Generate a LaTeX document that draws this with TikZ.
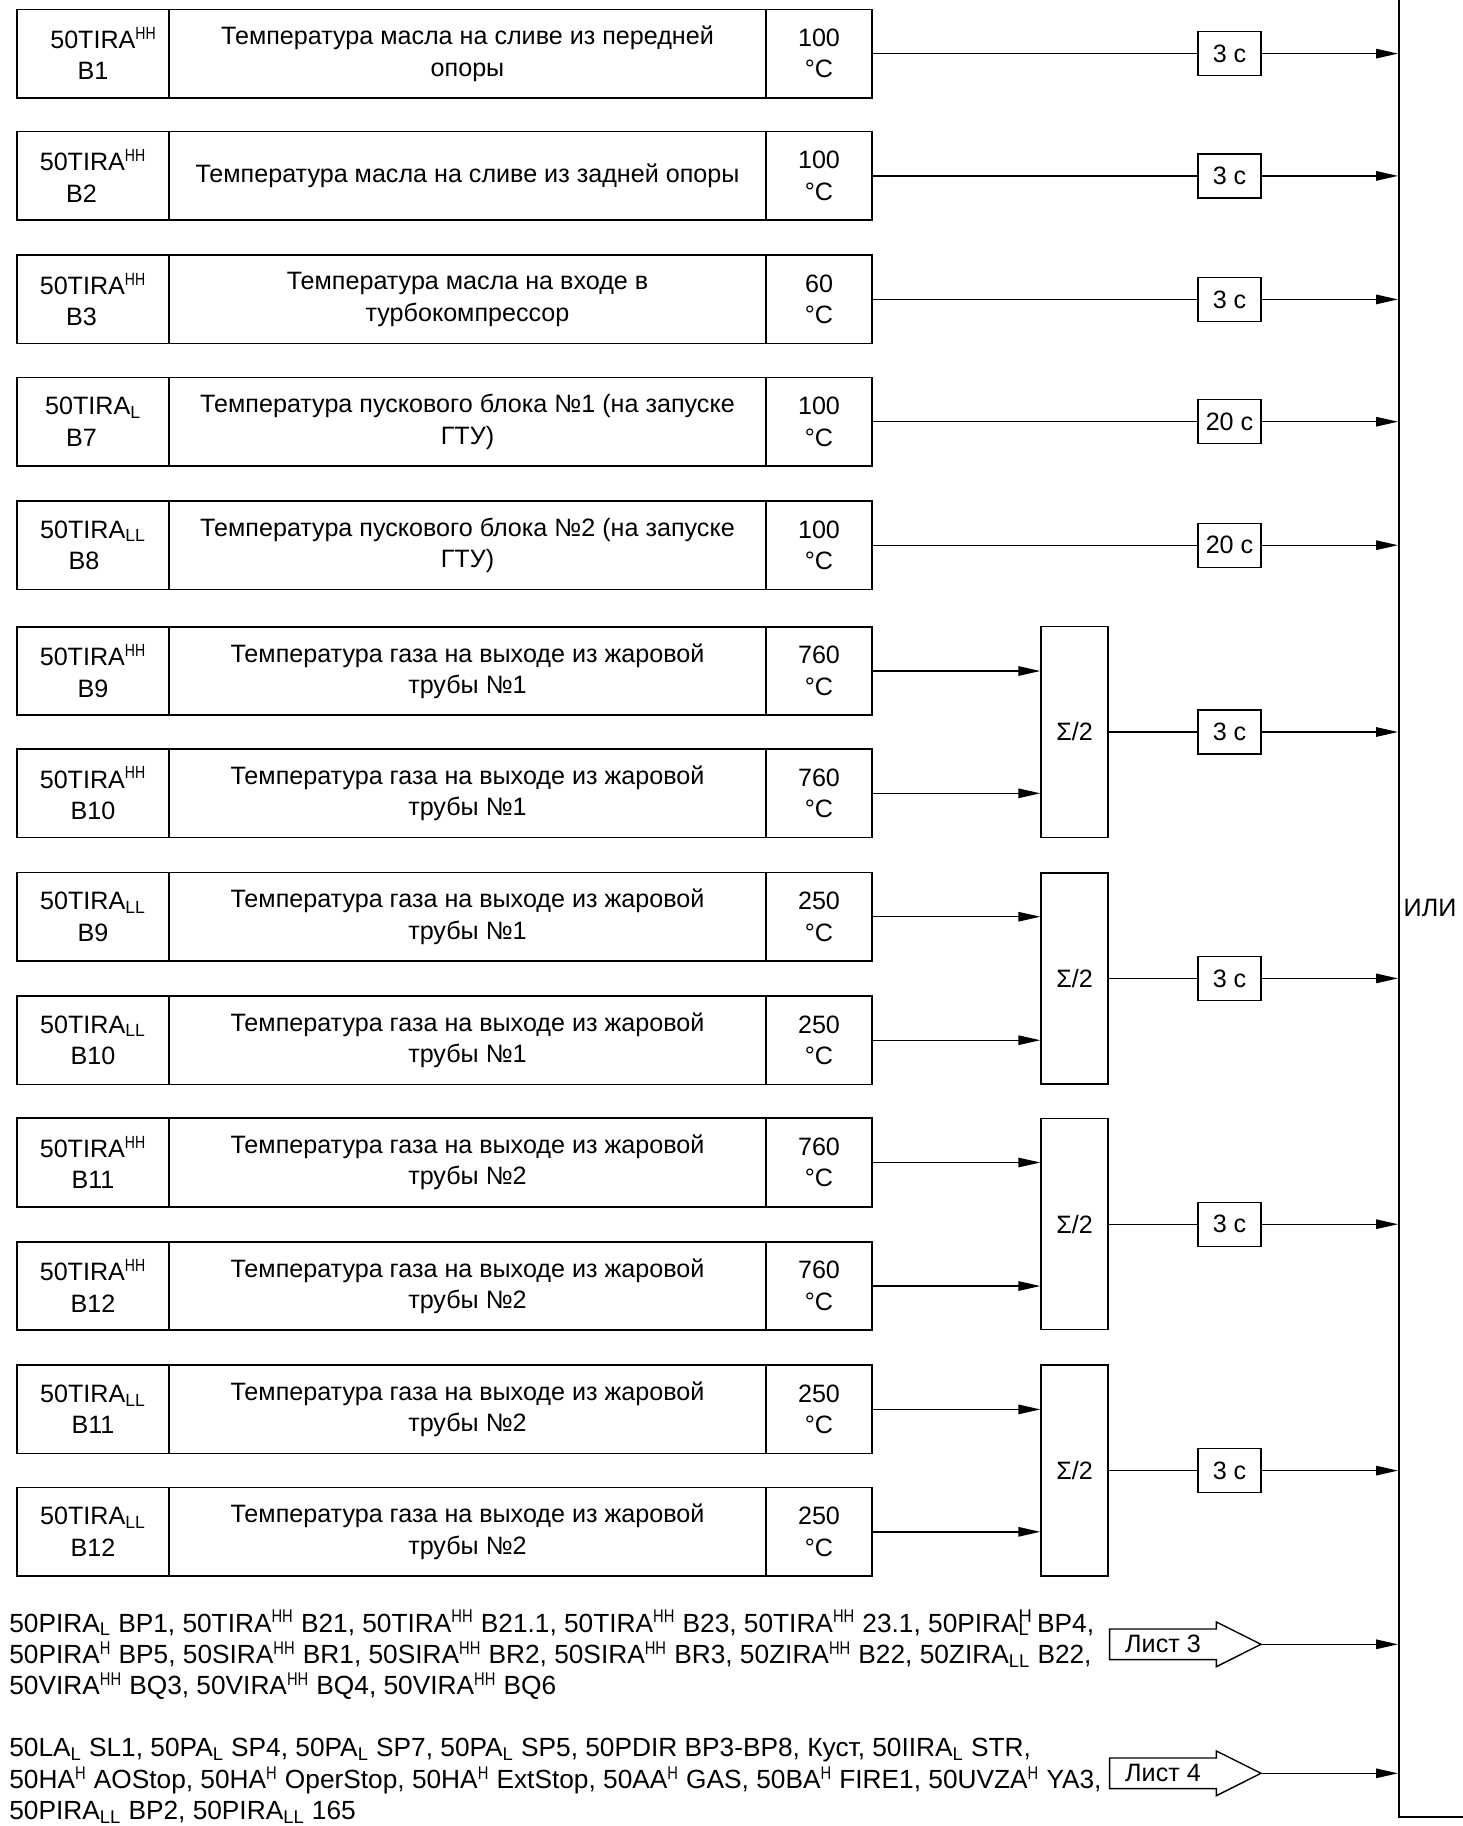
\documentclass[tikz,border=0pt]{standalone}
\usepackage{fontspec}
\setmainfont{Liberation Sans}
\usetikzlibrary{arrows.meta}
\newcommand{\up}[1]{\textsuperscript{\scalebox{0.8}[1]{#1}}}
\newcommand{\dn}[1]{\textsubscript{#1}}
\newcommand{\updn}[2]{\rlap{\textsuperscript{#1}}\textsubscript{#2}}

\begin{document}
\begin{tikzpicture}[
    x=0.2mm, y=-0.2mm,
    every node/.style={font=\fontsize{14.3}{17.9}\selectfont, inner sep=0pt},
    cell/.style={draw, line width=0.9pt, minimum height=17.7mm, align=center},
    tagcell/.style={cell, minimum width=30.4mm},
    desccell/.style={cell, minimum width=119.4mm},
    valcell/.style={cell, minimum width=21.2mm},
    delay/.style={draw, line width=0.8pt, minimum width=12.6mm, minimum height=8.8mm},
    avg/.style={draw, line width=0.8pt, minimum width=13.4mm, minimum height=42.2mm},
    srclist/.style={anchor=west, align=left, font=\fontsize{14.95}{17.9}\selectfont},
    wire/.style={line width=0.8pt},
    arr/.style={line width=0.8pt, -{Triangle[length=4.4mm, width=1.9mm]}}
]
  \useasboundingbox (0,0) rectangle (1463,1826);

  % OR block (runs off the page)
  \node[draw, line width=0.9pt, minimum width=20mm, minimum height=370mm,
        anchor=south west] (orbox) at (1398,1818) {};
  \node (ili) at (1430,908) {ИЛИ};

  % Oil temperature rows
  \node[tagcell]  (t1) at (93,53.6)    {\hspace*{4.2mm}50TIRA\up{HH}\\B1};
  \node[desccell] (d1) at (467.5,53.6) {Температура масла на сливе из передней\\опоры};
  \node[valcell]  (v1) at (819,53.6)   {100\\°C};
  \node[tagcell]  (t2) at (93,175.9)    {50TIRA\up{HH}\\B2\hspace*{4.6mm}};
  \node[desccell] (d2) at (467.5,175.9) {Температура масла на сливе из задней опоры};
  \node[valcell]  (v2) at (819,175.9)   {100\\°C};
  \node[tagcell]  (t3) at (93,299.4)    {50TIRA\up{HH}\\B3\hspace*{4.6mm}};
  \node[desccell] (d3) at (467.5,299.4) {Температура масла на входе в\\турбокомпрессор};
  \node[valcell]  (v3) at (819,299.4)   {60\\°C};

  % Start block rows
  \node[tagcell]  (t4) at (93,421.7)    {50TIRA\dn{L}\\B7\hspace*{4.6mm}};
  \node[desccell] (d4) at (467.5,421.7) {Температура пускового блока №1 (на запуске\\ГТУ)};
  \node[valcell]  (v4) at (819,421.7)   {100\\°C};
  \node[tagcell]  (t5) at (93,545.2)    {50TIRA\dn{LL}\\B8\hspace*{3.6mm}};
  \node[desccell] (d5) at (467.5,545.2) {Температура пускового блока №2 (на запуске\\ГТУ)};
  \node[valcell]  (v5) at (819,545.2)   {100\\°C};

  % Delays for single rows
  \node[delay] (z1) at (1229.5,53.6)  {3 с};
  \node[delay] (z2) at (1229.5,175.9) {3 с};
  \node[delay] (z3) at (1229.5,299.4) {3 с};
  \node[delay] (z4) at (1229.5,421.7) {20 с};
  \node[delay] (z5) at (1229.5,545.2) {20 с};

  \draw[wire] (v1)--(z1);
  \draw[wire] (v2)--(z2);
  \draw[wire] (v3)--(z3);
  \draw[wire] (v4)--(z4);
  \draw[wire] (v5)--(z5);
  \draw[arr] (z1)--(z1 -| orbox.west);
  \draw[arr] (z2)--(z2 -| orbox.west);
  \draw[arr] (z3)--(z3 -| orbox.west);
  \draw[arr] (z4)--(z4 -| orbox.west);
  \draw[arr] (z5)--(z5 -| orbox.west);

  % Flame tube gas rows
  \node[tagcell]  (t6) at (93,671)    {50TIRA\up{HH}\\B9};
  \node[desccell] (d6) at (467.5,671) {Температура газа на выходе из жаровой\\трубы №1};
  \node[valcell]  (v6) at (819,671)   {760\\°C};
  \node[tagcell]  (t7) at (93,793.3)    {50TIRA\up{HH}\\B10};
  \node[desccell] (d7) at (467.5,793.3) {Температура газа на выходе из жаровой\\трубы №1};
  \node[valcell]  (v7) at (819,793.3)   {760\\°C};
  \node[tagcell]  (t8) at (93,916.7)    {50TIRA\dn{LL}\\B9};
  \node[desccell] (d8) at (467.5,916.7) {Температура газа на выходе из жаровой\\трубы №1};
  \node[valcell]  (v8) at (819,916.7)   {250\\°C};
  \node[tagcell]  (t9) at (93,1040.2)    {50TIRA\dn{LL}\\B10};
  \node[desccell] (d9) at (467.5,1040.2) {Температура газа на выходе из жаровой\\трубы №1};
  \node[valcell]  (v9) at (819,1040.2)   {250\\°C};
  \node[tagcell]  (t10) at (93,1162.5)    {50TIRA\up{HH}\\B11};
  \node[desccell] (d10) at (467.5,1162.5) {Температура газа на выходе из жаровой\\трубы №2};
  \node[valcell]  (v10) at (819,1162.5)   {760\\°C};
  \node[tagcell]  (t11) at (93,1286)    {50TIRA\up{HH}\\B12};
  \node[desccell] (d11) at (467.5,1286) {Температура газа на выходе из жаровой\\трубы №2};
  \node[valcell]  (v11) at (819,1286)   {760\\°C};
  \node[tagcell]  (t12) at (93,1409.4)    {50TIRA\dn{LL}\\B11};
  \node[desccell] (d12) at (467.5,1409.4) {Температура газа на выходе из жаровой\\трубы №2};
  \node[valcell]  (v12) at (819,1409.4)   {250\\°C};
  \node[tagcell]  (t13) at (93,1531.8)    {50TIRA\dn{LL}\\B12};
  \node[desccell] (d13) at (467.5,1531.8) {Температура газа на выходе из жаровой\\трубы №2};
  \node[valcell]  (v13) at (819,1531.8)   {250\\°C};

  % Averaging blocks
  \node[avg] (s1) at (1074.5,732)    {Σ/2};
  \node[avg] (s2) at (1074.5,978.4)  {Σ/2};
  \node[avg] (s3) at (1074.5,1224.2) {Σ/2};
  \node[avg] (s4) at (1074.5,1470.6) {Σ/2};

  \draw[arr] (v6)--(v6 -| s1.west);
  \draw[arr] (v7)--(v7 -| s1.west);
  \draw[arr] (v8)--(v8 -| s2.west);
  \draw[arr] (v9)--(v9 -| s2.west);
  \draw[arr] (v10)--(v10 -| s3.west);
  \draw[arr] (v11)--(v11 -| s3.west);
  \draw[arr] (v12)--(v12 -| s4.west);
  \draw[arr] (v13)--(v13 -| s4.west);

  \node[delay] (z6) at (1229.5,732)    {3 с};
  \node[delay] (z7) at (1229.5,978.4)  {3 с};
  \node[delay] (z8) at (1229.5,1224.2) {3 с};
  \node[delay] (z9) at (1229.5,1470.6) {3 с};

  \draw[wire] (s1)--(z6);
  \draw[wire] (s2)--(z7);
  \draw[wire] (s3)--(z8);
  \draw[wire] (s4)--(z9);
  \draw[arr] (z6)--(z6 -| orbox.west);
  \draw[arr] (z7)--(z7 -| orbox.west);
  \draw[arr] (z8)--(z8 -| orbox.west);
  \draw[arr] (z9)--(z9 -| orbox.west);

  % Signals from sheet 3
  \node[srclist] (src3) at (9,1655)
    {50PIRA\dn{L} BP1, 50TIRA\up{HH} B21, 50TIRA\up{HH} B21.1, 50TIRA\up{HH} B23, 50TIRA\up{HH} 23.1, 50PIRA\updn{H}{L} BP4,\\
     50PIRA\up{H} BP5, 50SIRA\up{HH} BR1, 50SIRA\up{HH} BR2, 50SIRA\up{HH} BR3, 50ZIRA\up{HH} B22, 50ZIRA\dn{LL} B22,\\
     50VIRA\up{HH} BQ3, 50VIRA\up{HH} BQ4, 50VIRA\up{HH} BQ6};
  \node[minimum width=21.2mm, minimum height=6mm] (l3) at (1163,1644.3) {Лист 3};
  \coordinate (l3tip) at (1261,1644.3);
  \draw[wire] (l3.north west)--(l3.north east)--([yshift=1.4mm]l3.north east)--(l3tip)
    --([yshift=-1.4mm]l3.south east)--(l3.south east)--(l3.south west)--cycle;
  \draw[arr] (l3tip)--(l3tip -| orbox.west);

  % Signals from sheet 4
  \node[srclist] (src4) at (9,1781)
    {50LA\dn{L} SL1, 50PA\dn{L} SP4, 50PA\dn{L} SP7, 50PA\dn{L} SP5, 50PDIR BP3-BP8, Куст, 50IIRA\dn{L} STR,\\
     50HA\up{H} AOStop, 50HA\up{H} OperStop, 50HA\up{H} ExtStop, 50AA\up{H} GAS, 50BA\up{H} FIRE1, 50UVZA\up{H} YA3,\\
     50PIRA\dn{LL} BP2, 50PIRA\dn{LL} 165};
  \node[minimum width=21.2mm, minimum height=6mm] (l4) at (1163,1773.3) {Лист 4};
  \coordinate (l4tip) at (1261,1773.3);
  \draw[wire] (l4.north west)--(l4.north east)--([yshift=1.4mm]l4.north east)--(l4tip)
    --([yshift=-1.4mm]l4.south east)--(l4.south east)--(l4.south west)--cycle;
  \draw[arr] (l4tip)--(l4tip -| orbox.west);
\end{tikzpicture}
\end{document}
